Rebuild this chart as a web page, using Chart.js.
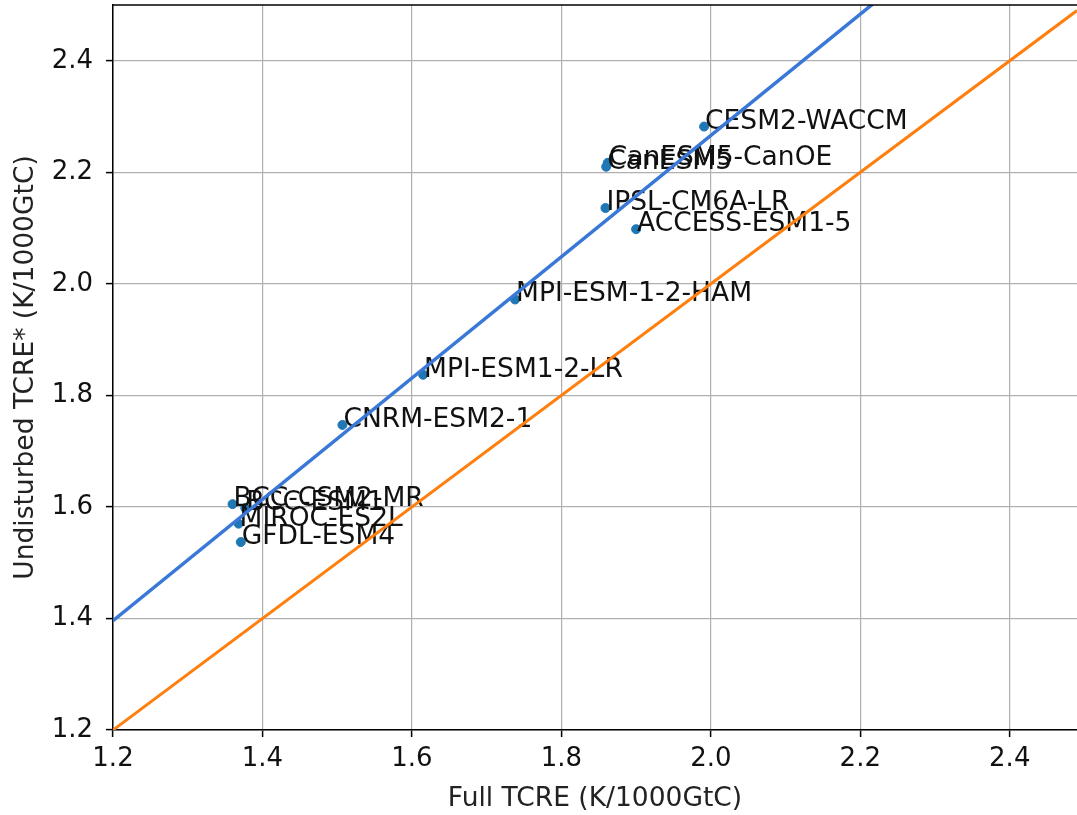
<!DOCTYPE html>
<html>
<head>
<meta charset="utf-8">
<script src="https://cdn.jsdelivr.net/npm/chart.js@4/dist/chart.umd.min.js"></script>
<style>
  html, body { margin: 0; padding: 0; background: #fff; }
  #wrap { width: 1077px; height: 815px; }
</style>
</head>
<body>
<div id="wrap"><canvas id="chart" width="1077" height="815"></canvas></div>
<script>
// model names and their (full TCRE, undisturbed TCRE*) values
const models = ['CESM2-WACCM', 'CanESM5-CanOE', 'CanESM5', 'IPSL-CM6A-LR', 'ACCESS-ESM1-5',
  'MPI-ESM-1-2-HAM', 'MPI-ESM1-2-LR', 'CNRM-ESM2-1', 'BCC-CSM2-MR', 'BCC-ESM1',
  'MIROC-ES2L', 'GFDL-ESM4'];
const fullTcre = [1.991, 1.862, 1.860, 1.859, 1.900, 1.738, 1.615, 1.507, 1.360, 1.377, 1.368, 1.371];
const undisturbedTcre = [2.282, 2.217, 2.210, 2.136, 2.098, 1.972, 1.837, 1.747, 1.605, 1.598, 1.570, 1.537];

// fitted line and the 1:1 line
const fitX = [1.2, 2.49];
const fitY = [1.396, 2.799];
const oneToOne = [1.2, 2.49];

const xTicks = [1.2, 1.4, 1.6, 1.8, 2.0, 2.2, 2.4];
const yTicks = [1.2, 1.4, 1.6, 1.8, 2.0, 2.2, 2.4];

const FONT = 'DejaVu Sans';

const labelPlugin = {
  id: 'pointLabels',
  afterDatasetDraw(chart, args) {
    if (args.index !== 0) return;
    const ctx = chart.ctx;
    const xs = chart.scales.x, ys = chart.scales.y;
    ctx.save();
    ctx.font = '26.5px "' + FONT + '"';
    ctx.fillStyle = '#111';
    ctx.textAlign = 'left';
    ctx.textBaseline = 'alphabetic';
    models.forEach((m, i) => {
      ctx.fillText(m, xs.getPixelForValue(fullTcre[i]) + 1, ys.getPixelForValue(undisturbedTcre[i]) + 2);
    });
    ctx.restore();
  }
};

const framePlugin = {
  id: 'topSpine',
  afterDraw(chart) {
    const { ctx, chartArea } = chart;
    ctx.save();
    ctx.strokeStyle = '#000';
    ctx.lineWidth = 1.5;
    ctx.beginPath();
    ctx.moveTo(chartArea.left, chartArea.top);
    ctx.lineTo(chartArea.right, chartArea.top);
    ctx.stroke();
    ctx.restore();
  }
};

new Chart(document.getElementById('chart'), {
  type: 'scatter',
  data: {
    datasets: [
      {
        label: 'models',
        data: models.map((m, i) => ({ x: fullTcre[i], y: undisturbedTcre[i] })),
        backgroundColor: '#1f77b4',
        borderColor: '#1f77b4',
        pointRadius: 4.5,
        order: 3
      },
      {
        label: 'fit',
        type: 'line',
        data: fitX.map((x, i) => ({ x, y: fitY[i] })),
        borderColor: '#3a78d8',
        borderWidth: 3.5,
        pointRadius: 0,
        order: 1
      },
      {
        label: '1:1',
        type: 'line',
        data: oneToOne.map(v => ({ x: v, y: v })),
        borderColor: '#ff7f0e',
        borderWidth: 3,
        pointRadius: 0,
        order: 2
      }
    ]
  },
  options: {
    responsive: false,
    animation: false,
    layout: { autoPadding: false, padding: { top: 5, right: 0, left: 0, bottom: 0 } },
    plugins: {
      legend: { display: false },
      tooltip: { enabled: false }
    },
    scales: {
      x: {
        type: 'linear',
        min: 1.2,
        max: 2.49,
        afterBuildTicks: s => { s.ticks = xTicks.map(v => ({ value: v })); },
        afterFit: s => { s.height = 85; s.paddingLeft = 0; s.paddingRight = 0; },
        grid: { color: '#b0b0b0', lineWidth: 1.2, tickColor: '#000', tickLength: 7, tickWidth: 1.5 },
        border: { color: '#000', width: 1.5 },
        ticks: { color: '#111', font: { family: FONT, size: 26 }, padding: 7, maxRotation: 0,
          callback: v => v.toFixed(1) },
        title: { display: true, text: 'Full TCRE (K/1000GtC)', color: '#222',
          font: { family: FONT, size: 26.5 }, padding: { top: 0, bottom: 0 } }
      },
      y: {
        type: 'linear',
        min: 1.2,
        max: 2.5,
        afterBuildTicks: s => { s.ticks = yTicks.map(v => ({ value: v })); },
        afterFit: s => { s.width = 113; s.paddingTop = 0; s.paddingBottom = 0; },
        grid: { color: '#b0b0b0', lineWidth: 1.2, tickColor: '#000', tickLength: 7, tickWidth: 1.5 },
        border: { color: '#000', width: 1.5 },
        ticks: { color: '#111', font: { family: FONT, size: 26 }, padding: 13,
          callback: v => v.toFixed(1) },
        title: { display: true, text: 'Undisturbed TCRE* (K/1000GtC)', color: '#222',
          font: { family: FONT, size: 26.5 }, padding: { top: 10, bottom: 0 } }
      }
    }
  },
  plugins: [labelPlugin, framePlugin]
});
</script>
</body>
</html>
